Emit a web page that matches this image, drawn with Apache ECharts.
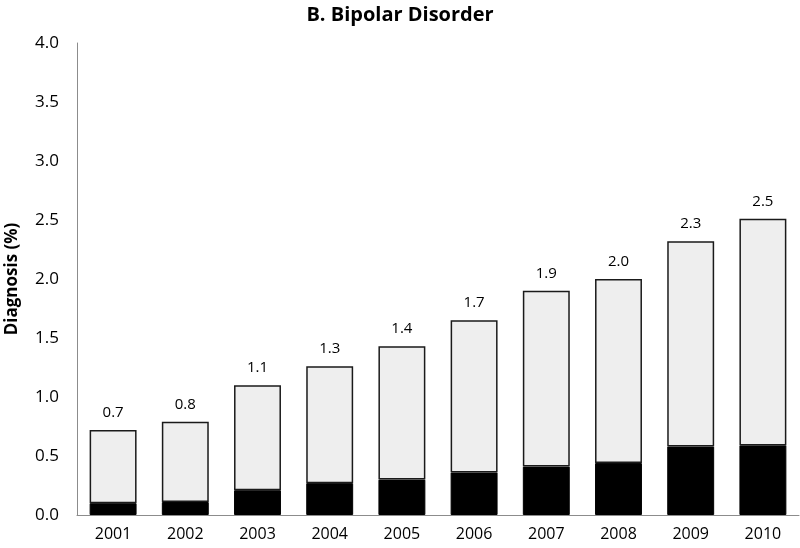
<!DOCTYPE html>
<html>
<head>
<meta charset="utf-8">
<script src="https://cdn.jsdelivr.net/npm/echarts@6/dist/echarts.min.js"></script>
<style>
  html, body { margin: 0; padding: 0; background: #fff; }
  #chart { width: 800px; height: 548px; }
</style>
</head>
<body>
<div id="chart"></div>
<script>
var years = ["2001", "2002", "2003", "2004", "2005", "2006", "2007", "2008", "2009", "2010"];
// total height of each bar and the dark bottom part
var totals = [0.72, 0.79, 1.10, 1.26, 1.43, 1.65, 1.90, 2.00, 2.32, 2.51];
var lower = [0.10, 0.11, 0.21, 0.27, 0.30, 0.36, 0.41, 0.44, 0.58, 0.59];
var totalLabels = ["0.7", "0.8", "1.1", "1.3", "1.4", "1.7", "1.9", "2.0", "2.3", "2.5"];

var upper = totals.map(function (t, i) {
  return +(t - lower[i]).toFixed(3);
});

var font = "'Open Sans', sans-serif";
var chart = echarts.init(document.getElementById("chart"), null, { renderer: "canvas" });

chart.setOption({
  animation: false,
  title: {
    text: "B. Bipolar Disorder",
    left: "center",
    top: 0,
    textStyle: { fontFamily: font, fontSize: 20, fontWeight: "bold", color: "#000" }
  },
  grid: { left: 77, right: 1, top: 43, bottom: 33, outerBoundsMode: "none", containLabel: false },
  xAxis: {
    type: "category",
    data: years,
    axisLine: { lineStyle: { color: "#8c8c8c" } },
    axisTick: { show: false },
    axisLabel: { fontFamily: font, fontSize: 16, color: "#000", margin: 11 }
  },
  yAxis: {
    type: "value",
    min: 0,
    max: 4,
    interval: 0.5,
    name: "Diagnosis (%)",
    nameLocation: "middle",
    nameGap: 56,
    nameTextStyle: { fontFamily: font, fontSize: 17, fontWeight: "bold", color: "#000" },
    axisLine: { show: true, lineStyle: { color: "#8c8c8c" } },
    axisTick: { show: false },
    splitLine: { show: false },
    axisLabel: {
      fontFamily: font, fontSize: 17, color: "#000", margin: 18,
      formatter: function (v) { return v.toFixed(1); }
    }
  },
  series: [
    {
      type: "bar",
      stack: "all",
      data: lower,
      barWidth: "65%",
      itemStyle: { color: "#000", borderColor: "#000", borderWidth: 1 }
    },
    {
      type: "bar",
      stack: "all",
      data: upper,
      barWidth: "65%",
      itemStyle: { color: "#eeeeee", borderColor: "#1a1a1a", borderWidth: 1.5 },
      label: {
        show: true,
        position: "top",
        distance: 10,
        fontFamily: font,
        fontSize: 15,
        color: "#000",
        formatter: function (p) { return totalLabels[p.dataIndex]; }
      }
    }
  ]
});
</script>
</body>
</html>
